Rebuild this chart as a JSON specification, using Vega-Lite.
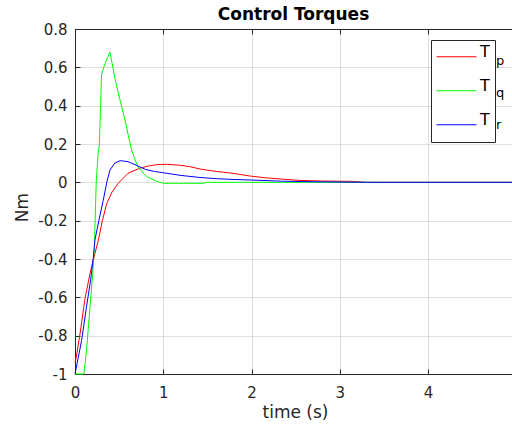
{
  "$schema": "https://vega.github.io/schema/vega-lite/v6.json",
  "autosize": {"type": "none"},
  "padding": {"left": 75, "top": 29, "right": 0, "bottom": 50},
  "width": 437,
  "height": 345,
  "background": "white",
  "title": {"text": "Control Torques", "font": "DejaVu Sans", "fontSize": 17, "fontWeight": "bold", "color": "black", "anchor": "middle", "offset": 5, "dy": 7},
  "config": {
    "view": {"stroke": null},
    "locale": {"number": {"decimal": ".", "thousands": ",", "grouping": [3], "currency": ["$", ""], "minus": "-"}},
    "axis": {"domainColor": "#262626", "tickColor": "#262626", "labelColor": "#262626", "gridColor": "#262626", "gridOpacity": 0.15, "labelFont": "DejaVu Sans", "labelFontSize": 15, "titleFont": "DejaVu Sans", "titleFontWeight": "normal", "titleColor": "#262626", "domainWidth": 1, "tickWidth": 1, "gridWidth": 1, "labelFlush": false, "labelOverlap": false}
  },
  "data": {"values": [
    {"t": 0, "v": -0.94, "s": "Tp", "sub": "p"},
    {"t": 0.011, "v": -0.92, "s": "Tp", "sub": "p"},
    {"t": 0.057, "v": -0.79, "s": "Tp", "sub": "p"},
    {"t": 0.113, "v": -0.607, "s": "Tp", "sub": "p"},
    {"t": 0.17, "v": -0.476, "s": "Tp", "sub": "p"},
    {"t": 0.226, "v": -0.371, "s": "Tp", "sub": "p"},
    {"t": 0.265, "v": -0.3, "s": "Tp", "sub": "p"},
    {"t": 0.31, "v": -0.2, "s": "Tp", "sub": "p"},
    {"t": 0.36, "v": -0.11, "s": "Tp", "sub": "p"},
    {"t": 0.42, "v": -0.05, "s": "Tp", "sub": "p"},
    {"t": 0.49, "v": -0.005, "s": "Tp", "sub": "p"},
    {"t": 0.6, "v": 0.047, "s": "Tp", "sub": "p"},
    {"t": 0.73, "v": 0.073, "s": "Tp", "sub": "p"},
    {"t": 0.84, "v": 0.086, "s": "Tp", "sub": "p"},
    {"t": 0.94, "v": 0.093, "s": "Tp", "sub": "p"},
    {"t": 1.05, "v": 0.094, "s": "Tp", "sub": "p"},
    {"t": 1.19, "v": 0.089, "s": "Tp", "sub": "p"},
    {"t": 1.3, "v": 0.082, "s": "Tp", "sub": "p"},
    {"t": 1.42, "v": 0.069, "s": "Tp", "sub": "p"},
    {"t": 1.6, "v": 0.057, "s": "Tp", "sub": "p"},
    {"t": 1.79, "v": 0.047, "s": "Tp", "sub": "p"},
    {"t": 1.98, "v": 0.033, "s": "Tp", "sub": "p"},
    {"t": 2.15, "v": 0.024, "s": "Tp", "sub": "p"},
    {"t": 2.34, "v": 0.017, "s": "Tp", "sub": "p"},
    {"t": 2.55, "v": 0.01, "s": "Tp", "sub": "p"},
    {"t": 2.8, "v": 0.007, "s": "Tp", "sub": "p"},
    {"t": 3.15, "v": 0.005, "s": "Tp", "sub": "p"},
    {"t": 3.3, "v": 0, "s": "Tp", "sub": "p"},
    {"t": 4.95, "v": 0, "s": "Tp", "sub": "p"},
    {"t": 0, "v": -1, "s": "Tq", "sub": "q"},
    {"t": 0.1, "v": -1, "s": "Tq", "sub": "q"},
    {"t": 0.13, "v": -0.88, "s": "Tq", "sub": "q"},
    {"t": 0.17, "v": -0.65, "s": "Tq", "sub": "q"},
    {"t": 0.2, "v": -0.48, "s": "Tq", "sub": "q"},
    {"t": 0.22, "v": -0.33, "s": "Tq", "sub": "q"},
    {"t": 0.24, "v": 0.0, "s": "Tq", "sub": "q"},
    {"t": 0.265, "v": 0.17, "s": "Tq", "sub": "q"},
    {"t": 0.275, "v": 0.19, "s": "Tq", "sub": "q"},
    {"t": 0.29, "v": 0.4, "s": "Tq", "sub": "q"},
    {"t": 0.3, "v": 0.56, "s": "Tq", "sub": "q"},
    {"t": 0.34, "v": 0.62, "s": "Tq", "sub": "q"},
    {"t": 0.396, "v": 0.68, "s": "Tq", "sub": "q"},
    {"t": 0.453, "v": 0.54, "s": "Tq", "sub": "q"},
    {"t": 0.51, "v": 0.43, "s": "Tq", "sub": "q"},
    {"t": 0.566, "v": 0.326, "s": "Tq", "sub": "q"},
    {"t": 0.623, "v": 0.204, "s": "Tq", "sub": "q"},
    {"t": 0.64, "v": 0.169, "s": "Tq", "sub": "q"},
    {"t": 0.71, "v": 0.082, "s": "Tq", "sub": "q"},
    {"t": 0.81, "v": 0.03, "s": "Tq", "sub": "q"},
    {"t": 0.94, "v": 0.003, "s": "Tq", "sub": "q"},
    {"t": 1.0, "v": -0.005, "s": "Tq", "sub": "q"},
    {"t": 1.45, "v": -0.005, "s": "Tq", "sub": "q"},
    {"t": 1.5, "v": 0, "s": "Tq", "sub": "q"},
    {"t": 4.95, "v": 0, "s": "Tq", "sub": "q"},
    {"t": 0, "v": -1, "s": "Tr", "sub": "r"},
    {"t": 0.075, "v": -0.825, "s": "Tr", "sub": "r"},
    {"t": 0.13, "v": -0.65, "s": "Tr", "sub": "r"},
    {"t": 0.177, "v": -0.51, "s": "Tr", "sub": "r"},
    {"t": 0.208, "v": -0.39, "s": "Tr", "sub": "r"},
    {"t": 0.226, "v": -0.3, "s": "Tr", "sub": "r"},
    {"t": 0.27, "v": -0.2, "s": "Tr", "sub": "r"},
    {"t": 0.32, "v": -0.093, "s": "Tr", "sub": "r"},
    {"t": 0.36, "v": 0.0, "s": "Tr", "sub": "r"},
    {"t": 0.396, "v": 0.064, "s": "Tr", "sub": "r"},
    {"t": 0.45, "v": 0.1, "s": "Tr", "sub": "r"},
    {"t": 0.51, "v": 0.113, "s": "Tr", "sub": "r"},
    {"t": 0.6, "v": 0.108, "s": "Tr", "sub": "r"},
    {"t": 0.7, "v": 0.088, "s": "Tr", "sub": "r"},
    {"t": 0.8, "v": 0.067, "s": "Tr", "sub": "r"},
    {"t": 0.9, "v": 0.057, "s": "Tr", "sub": "r"},
    {"t": 1.0, "v": 0.05, "s": "Tr", "sub": "r"},
    {"t": 1.2, "v": 0.036, "s": "Tr", "sub": "r"},
    {"t": 1.4, "v": 0.026, "s": "Tr", "sub": "r"},
    {"t": 1.6, "v": 0.019, "s": "Tr", "sub": "r"},
    {"t": 1.8, "v": 0.015, "s": "Tr", "sub": "r"},
    {"t": 2.06, "v": 0.011, "s": "Tr", "sub": "r"},
    {"t": 2.34, "v": 0.006, "s": "Tr", "sub": "r"},
    {"t": 2.7, "v": 0.003, "s": "Tr", "sub": "r"},
    {"t": 3.1, "v": 0.001, "s": "Tr", "sub": "r"},
    {"t": 3.45, "v": 0, "s": "Tr", "sub": "r"},
    {"t": 4.95, "v": 0, "s": "Tr", "sub": "r"}
  ]},
  "layer": [
    {
      "mark": {"type": "line", "strokeWidth": 1},
      "encoding": {
        "x": {"field": "t", "type": "quantitative", "scale": {"domain": [0, 4.95], "nice": false, "zero": false},
          "axis": {"orient": "bottom", "values": [0, 1, 2, 3, 4], "grid": true, "tickSize": -5, "labelPadding": 16, "format": "d", "title": "time (s)", "titleFontSize": 17, "titleX": 220, "titleY": 43, "titleBaseline": "alphabetic", "titleAlign": "center"}},
        "y": {"field": "v", "type": "quantitative", "scale": {"domain": [-1, 0.8], "nice": false},
          "axis": {"orient": "left", "values": [-1, -0.8, -0.6, -0.4, -0.2, 0, 0.2, 0.4, 0.6, 0.8], "grid": true, "tickSize": -5, "labelPadding": 13, "format": ".1~f", "labelOverlap": false,
            "title": "Nm", "titleFontSize": 17, "titleAngle": -90, "titleX": -48, "titleY": 178, "titleBaseline": "alphabetic", "titleAlign": "center"}},
        "color": {"field": "s", "type": "nominal", "scale": {"domain": ["Tp", "Tq", "Tr"], "range": ["#ff0000", "#00ff00", "#0000ff"]},
          "legend": {"orient": "none", "legendX": 356, "legendY": 11, "title": null, "symbolType": "stroke", "symbolSize": 1600, "symbolStrokeWidth": 1, "labelExpr": "'T'", "labelFont": "DejaVu Sans", "labelFontSize": 16, "labelColor": "black", "labelBaseline": "alphabetic", "labelOffset": 3, "padding": 5, "rowPadding": 8, "clipHeight": 23.5, "strokeColor": "#262626", "fillColor": "white", "zindex": 1}},
        "opacity": {"field": "sub", "type": "ordinal", "scale": {"range": [1, 1]},
          "legend": {"orient": "none", "legendX": 408, "legendY": 24, "title": null, "symbolType": "stroke", "symbolSize": 0, "labelFont": "DejaVu Sans", "labelFontSize": 13, "labelColor": "black", "labelBaseline": "alphabetic", "labelOffset": 0, "padding": 0, "rowPadding": 8, "clipHeight": 23.5, "zindex": 2}}
      }
    },
    {
      "mark": {"type": "line", "opacity": 0},
      "encoding": {
        "x": {"field": "t", "type": "quantitative", "axis": {"orient": "top", "values": [0, 1, 2, 3, 4], "labels": false, "grid": false, "tickSize": -5, "title": null}},
        "y": {"field": "v", "type": "quantitative", "axis": {"orient": "right", "labels": false, "ticks": false, "domain": false, "grid": false, "title": null}}
      }
    }
  ],
  "resolve": {"axis": {"x": "independent", "y": "independent"}}
}
